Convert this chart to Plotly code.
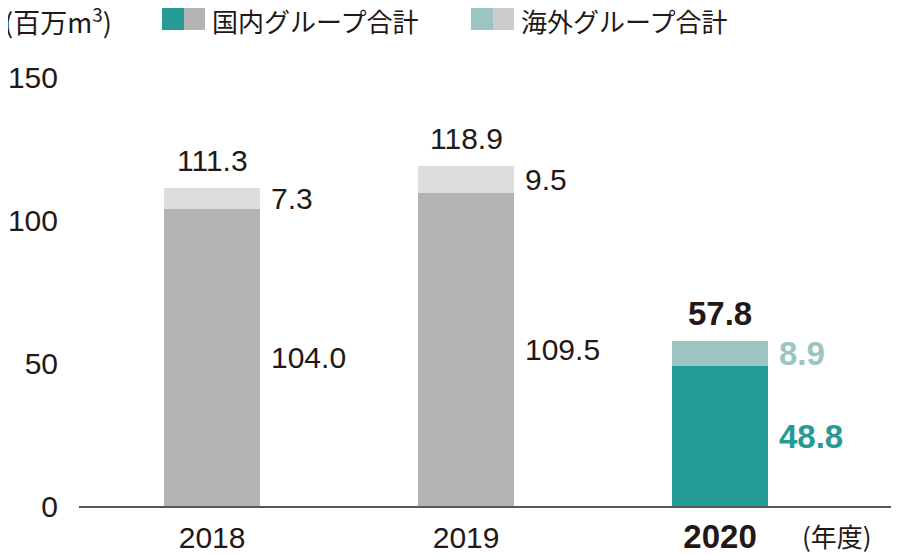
import plotly.graph_objects as go

# データ（百万m3）
years = ["2018", "2019", "2020"]
domestic = [104.0, 109.5, 48.8]
overseas = [7.3, 9.5, 8.9]
totals = [111.3, 118.9, 57.8]
y_ticks = [0, 50, 100, 150]

dom_colors = ["#b3b3b3", "#b3b3b3", "#259b95"]
ovs_colors = ["#dcdddd", "#dcdddd", "#9cc5c2"]
dom_text = ["#231815", "#231815", "#259b95"]
ovs_text = ["#231815", "#231815", "#9cc5c2"]

FONT = "Liberation Sans, Noto Sans CJK JP, sans-serif"
JP = "Noto Sans CJK JP, Liberation Sans, sans-serif"
INK = "#231815"
BAR_W = 0.378
FS = 30
FS_BOLD = 33

x = list(range(len(years)))
fig = go.Figure()
fig.add_trace(go.Bar(x=x, y=domestic, width=BAR_W, marker=dict(color=dom_colors, line=dict(width=0)),
                     name="国内グループ合計", hoverinfo="skip"))
fig.add_trace(go.Bar(x=x, y=overseas, width=BAR_W, marker=dict(color=ovs_colors, line=dict(width=0)),
                     name="海外グループ合計", hoverinfo="skip"))

# 数値ラベル（最新年度は太字）
for i in x:
    last = i == len(years) - 1
    fmt = (lambda v: f"<b>{v:.1f}</b>") if last else (lambda v: f"{v:.1f}")
    size = FS_BOLD if last else FS
    fig.add_annotation(x=i, y=totals[i], text=fmt(totals[i]), showarrow=False,
                       xanchor="center", yanchor="middle", yshift=27,
                       font=dict(family=FONT, size=size, color=INK))
    fig.add_annotation(x=i + BAR_W / 2, y=domestic[i] + overseas[i] / 2, text=fmt(overseas[i]),
                       showarrow=False, xanchor="left", yanchor="middle", xshift=9,
                       font=dict(family=FONT, size=size, color=ovs_text[i]))
    fig.add_annotation(x=i + BAR_W / 2, y=domestic[i] / 2, text=fmt(domestic[i]),
                       showarrow=False, xanchor="left", yanchor="middle", xshift=9,
                       font=dict(family=FONT, size=size, color=dom_text[i]))

# 凡例（2色スウォッチ）: 画面座標 -> paper座標（プロット領域は x 79-891, y 77-506）
def px_x(p):
    return (p - 79) / 812

def px_y(p):
    return (506 - p) / 429

for x0, c1, c2 in [(162, "#259b95", "#b3b3b3"), (471, "#9cc5c2", "#cccccc")]:
    fig.add_shape(type="rect", xref="paper", yref="paper", x0=px_x(x0), x1=px_x(x0 + 22),
                  y0=px_y(30), y1=px_y(8), fillcolor=c1, line=dict(width=0))
    fig.add_shape(type="rect", xref="paper", yref="paper", x0=px_x(x0 + 22), x1=px_x(x0 + 43),
                  y0=px_y(30), y1=px_y(8), fillcolor=c2, line=dict(width=0))

fig.add_annotation(xref="paper", yref="paper", x=px_x(210), y=px_y(21), text="国内グループ合計",
                   showarrow=False, xanchor="left", yanchor="middle",
                   font=dict(family=JP, size=26, color=INK))
fig.add_annotation(xref="paper", yref="paper", x=px_x(519), y=px_y(21), text="海外グループ合計",
                   showarrow=False, xanchor="left", yanchor="middle",
                   font=dict(family=JP, size=26, color=INK))
fig.add_annotation(xref="paper", yref="paper", x=px_x(2), y=px_y(21), text="(百万m<sup>3</sup>)",
                   showarrow=False, xanchor="left", yanchor="middle",
                   font=dict(family=JP, size=27, color=INK))
fig.add_annotation(xref="paper", yref="paper", x=px_x(800), y=px_y(535), text="(年度)",
                   showarrow=False, xanchor="left", yanchor="middle",
                   font=dict(family=JP, size=26, color=INK))

# ページ本体の余白 8px を差し引いた余白
fig.update_layout(
    width=920, height=555,
    margin=dict(l=71, r=37, t=69, b=57, autoexpand=False),
    barmode="stack",
    showlegend=False,
    plot_bgcolor="white",
    paper_bgcolor="white",
    font=dict(family=FONT, size=FS, color=INK),
    xaxis=dict(range=[-0.524, 2.673], tickvals=x,
               ticktext=years[:-1] + [f'<span style="font-size:{FS_BOLD}px"><b>{years[-1]}</b></span>'],
               showline=True, linecolor="#595757", linewidth=2, automargin=False,
               showgrid=False, zeroline=False, ticks="", ticklabelstandoff=4),
    yaxis=dict(range=[0, 150], tickvals=y_ticks, showgrid=False, zeroline=False, automargin=False,
               showline=False, ticks="", ticklabelstandoff=20),
)

fig.write_html("out.html")
